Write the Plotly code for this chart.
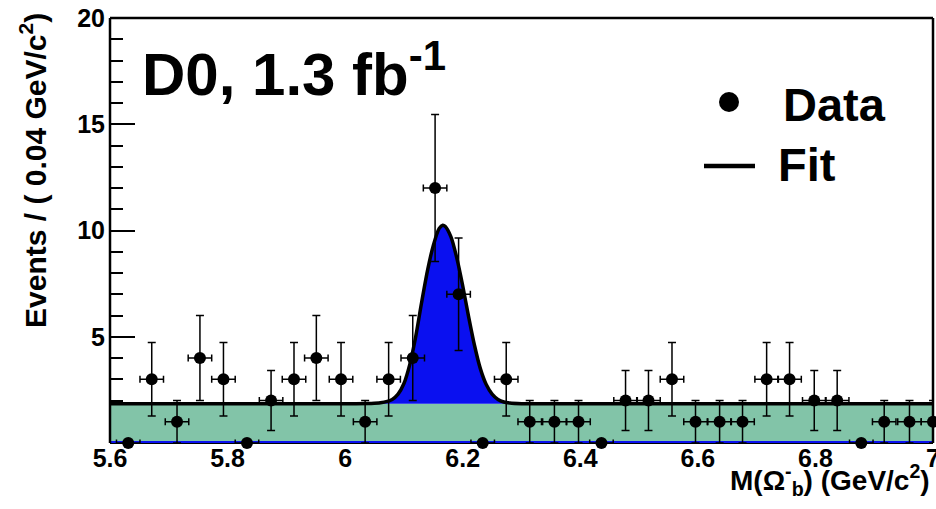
import plotly.graph_objects as go

# Binned candidate mass spectrum (bin centres in GeV/c^2, counts per bin)
data_x = [5.631, 5.671, 5.714, 5.753, 5.793, 5.833, 5.874, 5.913, 5.951, 5.993,
          6.034, 6.074, 6.115, 6.153, 6.193, 6.234, 6.274, 6.314, 6.356, 6.397,
          6.436, 6.477, 6.516, 6.556, 6.596, 6.637, 6.676, 6.717, 6.756, 6.798,
          6.837, 6.878, 6.917, 6.960, 7.000]
data_y = [0, 3, 1, 4, 3, 0, 2, 3, 4, 3,
          1, 3, 4, 12, 7, 0, 3, 1, 1, 1,
          0, 2, 2, 3, 1, 1, 1, 3, 3, 2,
          2, 0, 1, 1, 1]
bin_half_width = 0.02

# Fit result: flat background plus signal peak
bkg_x = [5.6, 7.0]
bkg_y = [1.85, 1.85]
fit_x = [5.60, 6.00, 6.04, 6.06, 6.08, 6.09, 6.10, 6.11, 6.12, 6.13, 6.14, 6.15,
         6.16, 6.166, 6.17, 6.18, 6.19, 6.20, 6.21, 6.22, 6.23, 6.24, 6.25,
         6.26, 6.27, 6.28, 6.30, 6.34, 7.00]
fit_y = [1.85, 1.85, 1.86, 1.89, 2.05, 2.30, 2.80, 3.70, 5.00, 6.60, 8.10, 9.30,
         10.10, 10.25, 10.20, 9.70, 8.70, 7.40, 5.95, 4.60, 3.50, 2.75, 2.30,
         2.05, 1.93, 1.88, 1.85, 1.85, 1.85]
sig_x = [5.6, 7.0]
sig_y = [0.0, 0.0]

x_ticks = [5.6, 5.8, 6.0, 6.2, 6.4, 6.6, 6.8, 7.0]
x_tick_text = ["5.6", "5.8", "6", "6.2", "6.4", "6.6", "6.8", "7"]
y_ticks = [5, 10, 15, 20]
y_tick_text = ["5", "10", "15", "20"]

W, H = 936, 509
L, R, T, B = 110, 3, 18, 66
PW, PH = W - L - R, H - T - B


def px(x):
    return (x - L) / PW


def py(y):
    return (H - B - y) / PH


FONT = "Liberation Sans, Arial, Helvetica, sans-serif"
GREEN = "#82c4a8"
BLUE = "#0a10f0"

fig = go.Figure()

# background component (green band)
fig.add_trace(go.Scatter(x=bkg_x, y=bkg_y, mode="lines", fill="tozeroy",
                         fillcolor=GREEN, line=dict(width=0, color=GREEN),
                         hoverinfo="skip", showlegend=False))
# signal region between total fit and background (blue) with black fit curve
fig.add_trace(go.Scatter(x=fit_x, y=fit_y, mode="lines", fill="tonexty",
                         fillcolor=BLUE,
                         line=dict(width=3.5, color="black", shape="spline", smoothing=0.8),
                         hoverinfo="skip", showlegend=False))
# signal-only component curve along the bottom
fig.add_trace(go.Scatter(x=sig_x, y=sig_y, mode="lines",
                         line=dict(width=4, color=BLUE),
                         hoverinfo="skip", showlegend=False))
# data points with errors
fig.add_trace(go.Scatter(
    x=data_x, y=data_y, mode="markers",
    marker=dict(symbol="circle", size=12, color="black"),
    error_y=dict(type="sqrt", color="black", thickness=1.5, width=4),
    error_x=dict(type="constant", value=bin_half_width, color="black", thickness=1.5, width=3.5),
    cliponaxis=False, showlegend=False))

tickfont = dict(family=FONT, size=25, color="black", weight=700)

fig.update_xaxes(range=[5.6, 7.0], tickvals=x_ticks, ticktext=x_tick_text,
                 ticks="", showgrid=False, zeroline=False, showline=True,
                 linecolor="black", linewidth=1, layer="below traces",
                 tickfont=tickfont, ticklabeloverflow="allow", ticklabelstandoff=-7,
                 automargin=False)
fig.update_yaxes(range=[0, 20], tickvals=y_ticks, ticktext=y_tick_text,
                 ticks="inside", ticklen=25, tickwidth=1.5, tickcolor="black",
                 minor=dict(dtick=1, tick0=0, ticks="inside", ticklen=13,
                            tickwidth=1.5, tickcolor="black"),
                 showgrid=False, zeroline=False, showline=False,
                 layer="below traces", tickfont=tickfont, ticklabelstandoff=4,
                 automargin=False)

frame = dict(color="black", width=2.5)
shapes = [
    dict(type="line", xref="paper", yref="paper", x0=0, x1=0, y0=0, y1=1, line=frame, layer="above"),
    dict(type="line", xref="paper", yref="paper", x0=0, x1=1, y0=1, y1=1, line=frame, layer="above"),
    dict(type="line", xref="paper", yref="paper", x0=1, x1=1, y0=0, y1=1, line=frame, layer="above"),
    # legend glyphs
    dict(type="circle", xref="paper", yref="paper", x0=px(719), x1=px(739),
         y0=py(112), y1=py(92), fillcolor="black", line=dict(width=0), layer="above"),
    dict(type="line", xref="paper", yref="paper", x0=px(704), x1=px(755),
         y0=py(166), y1=py(166), line=dict(color="black", width=4.5), layer="above"),
]

annotations = [
    dict(text="D0, 1.3 fb<sup>-1</sup>", xref="paper", yref="paper",
         x=px(140), y=py(70), xanchor="left", yanchor="middle", showarrow=False,
         font=dict(family=FONT, size=60, color="black", weight=700)),
    dict(text="Data", xref="paper", yref="paper", x=px(781), y=py(104),
         xanchor="left", yanchor="middle", showarrow=False,
         font=dict(family=FONT, size=47, color="black", weight=700)),
    dict(text="Fit", xref="paper", yref="paper", x=px(776), y=py(165),
         xanchor="left", yanchor="middle", showarrow=False,
         font=dict(family=FONT, size=47, color="black", weight=700)),
    dict(text="Events / ( 0.04 GeV/c<sup>2</sup>)", xref="paper", yref="paper",
         x=px(33), y=py(171), xanchor="center", yanchor="middle", textangle=-90,
         showarrow=False, font=dict(family=FONT, size=30, color="black", weight=700)),
    dict(text="M(\u03a9<sup>-</sup><sub>b</sub>) (GeV/c<sup>2</sup>)", xref="paper", yref="paper",
         x=px(932), y=py(480), xanchor="right", yanchor="middle", showarrow=False,
         font=dict(family=FONT, size=28, color="black", weight=700)),
]

fig.update_layout(width=W, height=H, margin=dict(l=L, r=R, t=T, b=B, autoexpand=False),
                  paper_bgcolor="white", plot_bgcolor="white",
                  shapes=shapes, annotations=annotations, showlegend=False)

fig.write_html("out.html")
